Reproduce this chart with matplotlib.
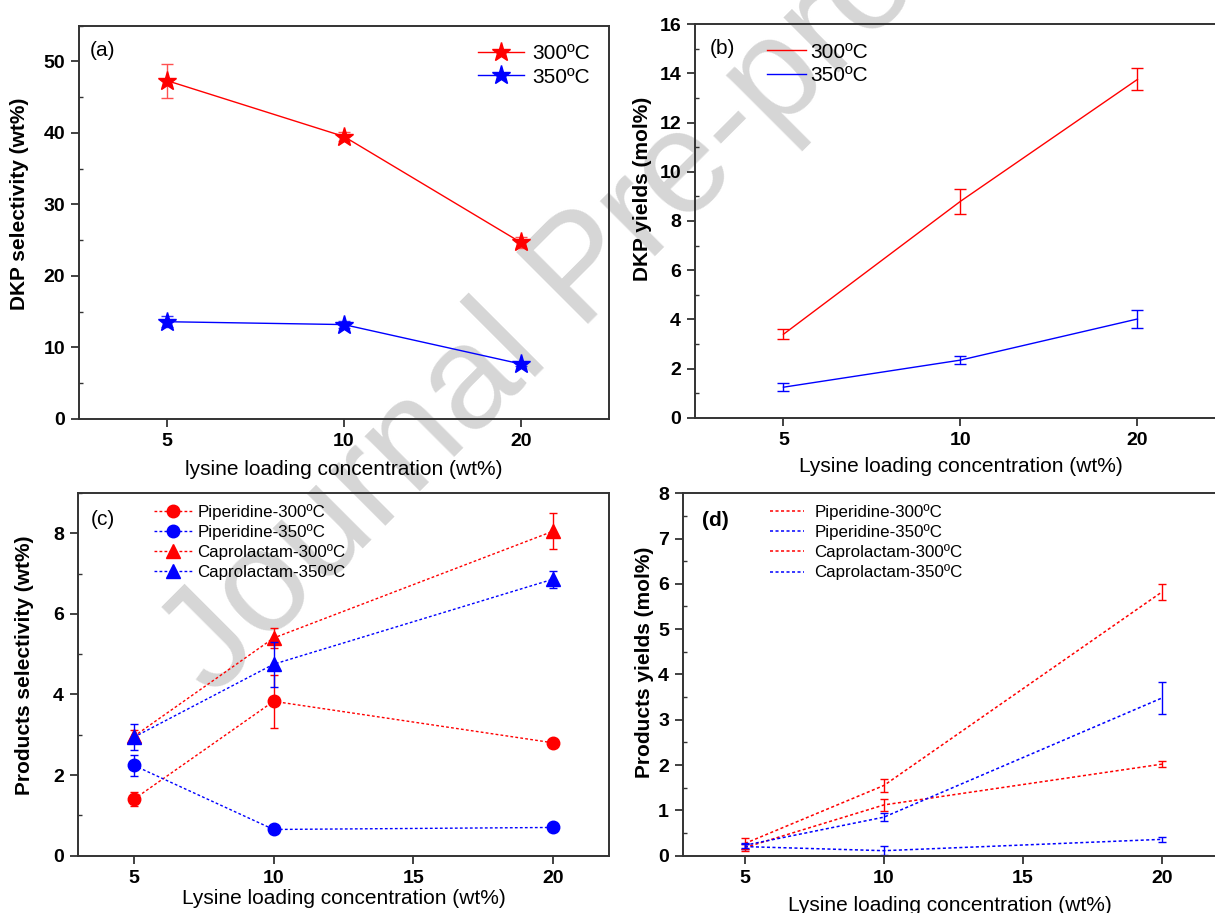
import numpy as np
import matplotlib
matplotlib.use("Agg")
import matplotlib.pyplot as plt
from matplotlib.ticker import MultipleLocator

plt.rcParams['font.family'] = ['Liberation Sans', 'DejaVu Sans']

# (a) DKP selectivity (wt%)
conc_ab = ['5', '10', '20']
sel_300 = [47.3, 39.5, 24.7]
sel_300_err = [2.4, 0.6, 0.8]
sel_350 = [13.6, 13.2, 7.7]
sel_350_err = [0.8, 0.5, 0.3]

# (b) DKP yields (mol%)
yld_300 = [3.4, 8.8, 13.75]
yld_300_err = [0.2, 0.5, 0.45]
yld_350 = [1.25, 2.35, 4.02]
yld_350_err = [0.15, 0.15, 0.37]

# (c) product selectivity (wt%)
conc_cd = [5, 10, 20]
pip300_sel = [1.40, 3.83, 2.80]
pip300_sel_err = [0.18, 0.66, 0.05]
pip350_sel = [2.24, 0.65, 0.70]
pip350_sel_err = [0.26, 0.04, 0.04]
cap300_sel = [2.96, 5.40, 8.05]
cap300_sel_err = [0.17, 0.24, 0.45]
cap350_sel = [2.94, 4.75, 6.86]
cap350_sel_err = [0.32, 0.56, 0.21]

# (d) product yields (mol%)
pip300_yld = [0.18, 1.12, 2.02]
pip300_yld_err = [0.08, 0.14, 0.07]
pip350_yld = [0.20, 0.11, 0.36]
pip350_yld_err = [0.05, 0.10, 0.06]
cap300_yld = [0.27, 1.55, 5.82]
cap300_yld_err = [0.12, 0.14, 0.17]
cap350_yld = [0.23, 0.85, 3.48]
cap350_yld_err = [0.06, 0.09, 0.35]

RED = '#ff0000'
BLUE = '#0000ff'
SPINE = '#333333'
DOT = (0, (2, 1.6))

fig = plt.figure(figsize=(12.15, 9.13), dpi=100)
ax_a = fig.add_axes([0.065, 0.5411, 0.4362, 0.4308])
ax_b = fig.add_axes([0.572, 0.5422, 0.437, 0.4315])
ax_c = fig.add_axes([0.0642, 0.0628, 0.437, 0.3973])
ax_d = fig.add_axes([0.5621, 0.0628, 0.44, 0.397])


def style(ax):
    ax.set_facecolor('none')
    for s in ax.spines.values():
        s.set_color(SPINE)
        s.set_linewidth(1.4)
    ax.tick_params(which='major', direction='out', length=6, width=1.3,
                   color=SPINE, labelsize=14, pad=4)
    ax.tick_params(which='minor', direction='in', length=3, width=1, color=SPINE,
                   left=True, bottom=False)
    for lab in ax.get_xticklabels() + ax.get_yticklabels():
        lab.set_fontweight('bold')


def series(ax, x, y, err, color, label, ecolor=None, **kw):
    ax.errorbar(x, y, yerr=err, fmt='none', ecolor=ecolor or color,
                elinewidth=1, capsize=kw.pop('capsize', 4))
    ax.plot(x, y, color=color, label=label, **kw)


xa = np.arange(1, len(conc_ab) + 1)

# (a)
series(ax_a, xa, sel_300, sel_300_err, RED, '300ºC', ecolor='#ff5050',
       marker='*', ms=14, lw=1)
series(ax_a, xa, sel_350, sel_350_err, BLUE, '350ºC', ecolor='#3030ff',
       marker='*', ms=14, lw=1)
ax_a.set_xlim(0.5, 3.5)
ax_a.set_ylim(0, 55)
ax_a.set_xticks(xa)
ax_a.set_xticklabels(conc_ab)
ax_a.yaxis.set_major_locator(MultipleLocator(10))
ax_a.yaxis.set_minor_locator(MultipleLocator(5))
style(ax_a)
ax_a.set_ylabel('DKP selectivity (wt%)', fontsize=15, fontweight='bold')
ax_a.yaxis.set_label_coords(-0.094, 0.547)
ax_a.set_xlabel('lysine loading concentration (wt%)', fontsize=15, labelpad=7)
ax_a.text(0.021, 0.938, '(a)', transform=ax_a.transAxes, fontsize=15, va='center')
ax_a.legend(loc='upper right', fontsize=15, frameon=False, handlelength=2.2,
            handletextpad=0.4, labelspacing=0.2, borderaxespad=0.5)

# (b)
series(ax_b, xa, yld_300, yld_300_err, RED, '300ºC', lw=1)
series(ax_b, xa, yld_350, yld_350_err, BLUE, '350ºC', lw=1)
ax_b.set_xlim(0.5, 3.5)
ax_b.set_ylim(0, 16)
ax_b.set_xticks(xa)
ax_b.set_xticklabels(conc_ab)
ax_b.yaxis.set_major_locator(MultipleLocator(2))
ax_b.yaxis.set_minor_locator(MultipleLocator(1))
style(ax_b)
ax_b.set_ylabel('DKP yields (mol%)', fontsize=15, fontweight='bold')
ax_b.yaxis.set_label_coords(-0.081, 0.581)
ax_b.set_xlabel('Lysine loading concentration (wt%)', fontsize=15, labelpad=6)
ax_b.text(0.028, 0.939, '(b)', transform=ax_b.transAxes, fontsize=15, va='center')
ax_b.legend(loc='upper left', bbox_to_anchor=(0.1, 1.0), fontsize=15,
            frameon=False, handlelength=1.9, handletextpad=0.2,
            labelspacing=0.2)

# (c)
series(ax_c, conc_cd, pip300_sel, pip300_sel_err, RED, 'Piperidine-300ºC',
       capsize=3, marker='o', ms=9, lw=1, ls=DOT)
series(ax_c, conc_cd, pip350_sel, pip350_sel_err, BLUE, 'Piperidine-350ºC',
       capsize=3, marker='o', ms=9, lw=1, ls=DOT)
series(ax_c, conc_cd, cap300_sel, cap300_sel_err, RED, 'Caprolactam-300ºC',
       capsize=3, marker='^', ms=10, lw=1, ls=DOT)
series(ax_c, conc_cd, cap350_sel, cap350_sel_err, BLUE, 'Caprolactam-350ºC',
       capsize=3, marker='^', ms=10, lw=1, ls=DOT)
ax_c.set_xlim(3.0, 22.0)
ax_c.set_ylim(0, 9.0)
ax_c.set_xticks([5, 10, 15, 20])
ax_c.xaxis.set_minor_locator(MultipleLocator(2.5))
ax_c.yaxis.set_major_locator(MultipleLocator(2))
ax_c.yaxis.set_minor_locator(MultipleLocator(1))
style(ax_c)
ax_c.set_ylabel('Products selectivity (wt%)', fontsize=15, fontweight='bold')
ax_c.yaxis.set_label_coords(-0.083, 0.524)
ax_c.set_xlabel('Lysine loading concentration (wt%)', fontsize=15, labelpad=2)
ax_c.text(0.0245, 0.926, '(c)', transform=ax_c.transAxes, fontsize=15, va='center')
ax_c.legend(loc='upper left', bbox_to_anchor=(0.115, 1.012), fontsize=12.2,
            frameon=False, handlelength=2.2, handletextpad=0.35,
            labelspacing=0.25)

# (d)
series(ax_d, conc_cd, pip300_yld, pip300_yld_err, RED, 'Piperidine-300ºC',
       capsize=3, lw=1.1, ls=DOT)
series(ax_d, conc_cd, pip350_yld, pip350_yld_err, BLUE, 'Piperidine-350ºC',
       capsize=3, lw=1.1, ls=DOT)
series(ax_d, conc_cd, cap300_yld, cap300_yld_err, RED, 'Caprolactam-300ºC',
       capsize=3, lw=1.1, ls=DOT)
series(ax_d, conc_cd, cap350_yld, cap350_yld_err, BLUE, 'Caprolactam-350ºC',
       capsize=3, lw=1.1, ls=DOT)
ax_d.set_xlim(2.77, 22.0)
ax_d.set_ylim(0, 8)
ax_d.set_xticks([5, 10, 15, 20])
ax_d.yaxis.set_major_locator(MultipleLocator(1))
ax_d.yaxis.set_minor_locator(MultipleLocator(0.5))
style(ax_d)
ax_d.set_ylabel('Products yields (mol%)', fontsize=15, fontweight='bold')
ax_d.yaxis.set_label_coords(-0.054, 0.533)
ax_d.set_xlabel('Lysine loading concentration (wt%)', fontsize=15, labelpad=7)
ax_d.text(0.0355, 0.926, '(d)', transform=ax_d.transAxes, fontsize=15,
          fontweight='bold', va='center')
ax_d.legend(loc='upper left', bbox_to_anchor=(0.135, 1.012), fontsize=12.2,
            frameon=False, handlelength=2.0, handletextpad=0.6,
            labelspacing=0.25)

# watermark behind the plots
fig.text(0.175, 0.235, 'Journal Pre-proof', fontsize=105, color='#d6d6d6',
         rotation=45, rotation_mode='anchor', ha='left', va='baseline',
         zorder=-1)

fig.savefig('out.png', dpi=100)
